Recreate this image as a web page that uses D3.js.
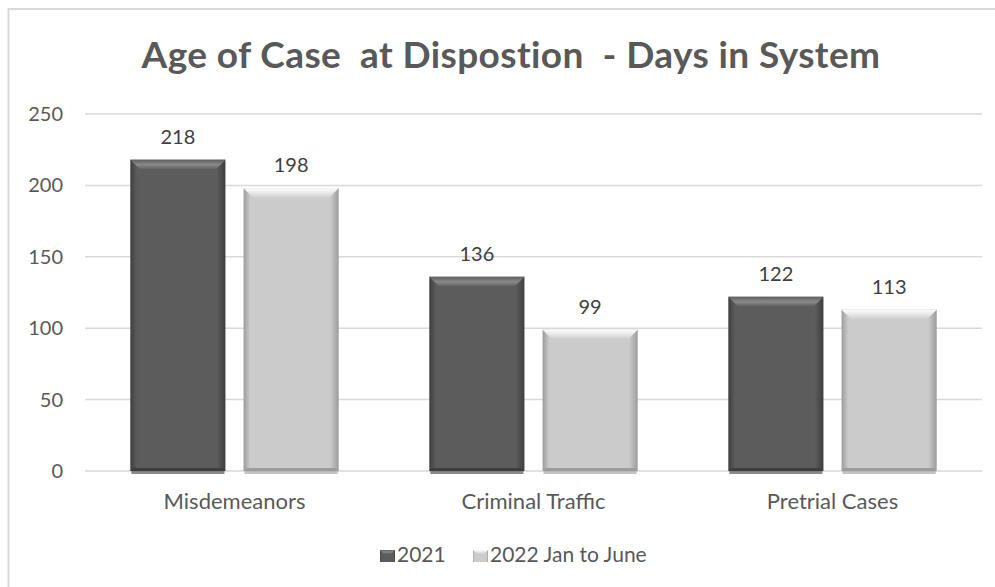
<!DOCTYPE html>
<html>
<head>
<meta charset="utf-8">
<script src="https://cdn.jsdelivr.net/npm/d3@7"></script>
<style>
  body { margin: 0; background: #fff; }
  svg { display: block; font-family: Lato, 'Open Sans', sans-serif; }
</style>
</head>
<body>
<svg id="chart"></svg>
<script>
const categories = ['Misdemeanors', 'Criminal Traffic', 'Pretrial Cases'];
const seriesNames = ['2021', '2022 Jan to June'];
const values2021 = [218, 136, 122];
const values2022 = [198, 99, 113];
const yTicks = [0, 50, 100, 150, 200, 250];

const w = 995, h = 587;
const svg = d3.select('#chart').attr('width', w).attr('height', h);

// series look: base, edge, bevel highlight
const looks = [
  { id: 'dark', base: '#5c5c5c', edge: '#3e3e3e', hiTop: '#5e5e5e', hiMid: '#8a8a8a' },
  { id: 'light', base: '#cbcbcb', edge: '#9c9c9c', hiTop: '#fdfdfd', hiMid: '#e6e6e6' }
];

const series = [values2021, values2022].map((vals, i) => ({
  name: seriesNames[i],
  look: looks[i],
  values: vals
}));

const defs = svg.append('defs');
looks.forEach(l => {
  const g = defs.append('linearGradient').attr('id', 'side-' + l.id)
    .attr('x1', 0).attr('x2', 1).attr('y1', 0).attr('y2', 0);
  g.append('stop').attr('offset', '0%').attr('stop-color', l.edge);
  g.append('stop').attr('offset', '7%').attr('stop-color', l.base);
  g.append('stop').attr('offset', '91%').attr('stop-color', l.base);
  g.append('stop').attr('offset', '100%').attr('stop-color', l.edge);
  const t = defs.append('linearGradient').attr('id', 'top-' + l.id)
    .attr('x1', 0).attr('x2', 0).attr('y1', 0).attr('y2', 1);
  t.append('stop').attr('offset', '0%').attr('stop-color', l.hiTop);
  t.append('stop').attr('offset', '50%').attr('stop-color', l.hiMid);
  t.append('stop').attr('offset', '100%').attr('stop-color', l.base);
});

// chart frame
svg.append('rect')
  .attr('x', 8.5).attr('y', 9).attr('width', 1000).attr('height', 600)
  .attr('fill', 'none').attr('stroke', '#d9d9d9').attr('stroke-width', 2);

svg.append('text')
  .attr('x', 511).attr('y', 68)
  .attr('text-anchor', 'middle')
  .attr('font-size', 37).attr('font-weight', 'bold')
  .attr('letter-spacing', 0.4)
  .attr('fill', '#595959')
  .attr('xml:space', 'preserve')
  .text('Age of Case  at Dispostion  - Days in System');

const plotLeft = 85, plotRight = 982;
const yScale = d3.scaleLinear().domain([0, 250]).range([471, 114]);
const x0 = d3.scaleBand().domain(categories).range([plotLeft, plotRight]);
const x1 = d3.scaleBand().domain(seriesNames).range([0, x0.bandwidth()])
  .paddingInner(0.16).paddingOuter(0.4);

// gridlines
svg.append('g').selectAll('line')
  .data(yTicks)
  .enter()
  .append('line')
  .attr('x1', plotLeft).attr('x2', plotRight)
  .attr('y1', d => yScale(d)).attr('y2', d => yScale(d))
  .attr('stroke', '#d9d9d9').attr('stroke-width', 1.5);

const yAxis = d3.axisLeft(yScale).tickValues(yTicks).tickSize(0).tickPadding(0);
svg.append('g')
  .attr('transform', 'translate(63,0)')
  .call(yAxis)
  .call(g => g.select('.domain').remove())
  .call(g => g.selectAll('text')
    .attr('font-size', 20).attr('fill', '#595959')
    .attr('font-family', 'Lato, sans-serif'));

const xAxis = d3.axisBottom(x0).tickSize(0).tickPadding(0);
svg.append('g')
  .attr('transform', 'translate(0,493)')
  .call(xAxis)
  .call(g => g.select('.domain').remove())
  .call(g => g.selectAll('text')
    .attr('font-size', 22).attr('fill', '#595959')
    .attr('font-family', 'Lato, sans-serif'));

// bars
const bev = 10;
series.forEach(s => {
  const g = svg.append('g');
  const bars = g.selectAll('g.bar')
    .data(s.values.map((v, i) => ({ cat: categories[i], v })))
    .enter()
    .append('g').attr('class', 'bar');

  const bx = d => x0(d.cat) + x1(s.name);
  const bw = x1.bandwidth();

  // shadow below the baseline
  bars.append('rect')
    .attr('x', d => bx(d) + 1).attr('y', yScale(0))
    .attr('width', bw - 2).attr('height', 3)
    .attr('fill', s.look.edge).attr('opacity', 0.6);

  bars.append('rect')
    .attr('x', bx).attr('y', d => yScale(d.v))
    .attr('width', bw).attr('height', d => yScale(0) - yScale(d.v))
    .attr('fill', 'url(#side-' + s.look.id + ')');

  bars.append('path')
    .attr('d', d => {
      const x = bx(d), y = yScale(d.v);
      return `M${x},${y}L${x + bw},${y}L${x + bw - bev},${y + bev}L${x + bev},${y + bev}Z`;
    })
    .attr('fill', 'url(#top-' + s.look.id + ')');

  bars.append('path')
    .attr('d', d => {
      const x = bx(d), y = yScale(0);
      return `M${x},${y}L${x + bw},${y}L${x + bw - 3},${y - 3}L${x + 3},${y - 3}Z`;
    })
    .attr('fill', s.look.edge);

  bars.append('text')
    .attr('x', d => bx(d) + bw / 2)
    .attr('y', d => yScale(d.v) - 16)
    .attr('text-anchor', 'middle')
    .attr('font-size', 20).attr('fill', '#404040')
    .text(d => d.v);
});

// legend
const legend = svg.append('g');
const legendX = [380, 473];
series.forEach((s, i) => {
  legend.append('rect')
    .attr('x', legendX[i]).attr('y', 550)
    .attr('width', 15).attr('height', 12)
    .attr('fill', 'url(#side-' + s.look.id + ')');
  legend.append('path')
    .attr('d', `M${legendX[i]},550L${legendX[i] + 15},550L${legendX[i] + 11},554L${legendX[i] + 4},554Z`)
    .attr('fill', 'url(#top-' + s.look.id + ')');
  legend.append('text')
    .attr('x', legendX[i] + 17).attr('y', 562)
    .attr('font-size', 21).attr('fill', '#595959')
    .text(s.name);
});
</script>
</body>
</html>
